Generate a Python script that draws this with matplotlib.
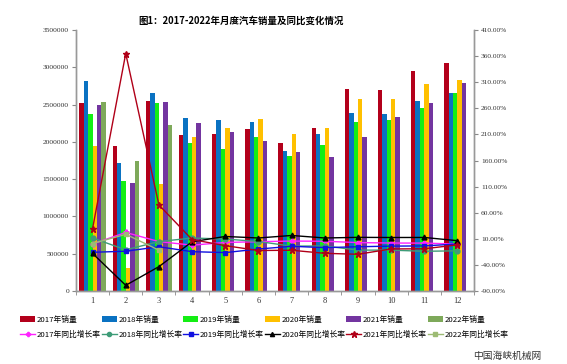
import matplotlib
matplotlib.use("Agg")
import matplotlib.pyplot as plt
import numpy as np
from matplotlib.patches import Patch
from matplotlib.lines import Line2D

plt.rcParams['font.family'] = ['Noto Sans CJK SC', 'DejaVu Sans']

months = ['1', '2', '3', '4', '5', '6', '7', '8', '9', '10', '11', '12']

sales_2017 = [2520000, 1940000, 2550000, 2090000, 2100000, 2170000, 1980000, 2180000, 2710000, 2700000, 2950000, 3060000]
sales_2018 = [2810000, 1720000, 2650000, 2320000, 2290000, 2270000, 1880000, 2100000, 2390000, 2380000, 2550000, 2660000]
sales_2019 = [2370000, 1480000, 2520000, 1980000, 1910000, 2060000, 1810000, 1960000, 2270000, 2290000, 2460000, 2660000]
sales_2020 = [1940000, 310000, 1430000, 2070000, 2190000, 2300000, 2110000, 2190000, 2570000, 2570000, 2770000, 2830000]
sales_2021 = [2500000, 1450000, 2530000, 2250000, 2130000, 2010000, 1860000, 1800000, 2070000, 2330000, 2520000, 2790000]
sales_2022 = [2530000, 1740000, 2230000]

yoy_2017 = [0.2, 22.2, 4.7, -2.2, 3.0, 4.5, 5.7, 5.3, 2.8, 1.9, 1.8, -0.1]
yoy_2018 = [11.6, -11.1, 4.7, 11.5, 9.6, 4.8, -4.0, -3.8, -11.6, -11.7, -13.9, -13.0]
yoy_2019 = [-15.8, -13.8, -5.2, -14.6, -16.4, -9.6, -4.3, -6.9, -5.2, -4.0, -3.6, 0.1]
yoy_2020 = [-18.0, -79.1, -43.3, 4.4, 14.5, 11.6, 16.4, 11.6, 12.8, 12.5, 12.6, 6.4]
yoy_2021 = [29.5, 364.9, 74.9, 8.6, -3.1, -12.4, -11.9, -17.8, -19.6, -9.4, -9.1, -1.6]
yoy_2022 = [0.9, 18.7, -11.7]

years = ['2017', '2018', '2019', '2020', '2021', '2022']
bar_colors = ['#B3001B', '#0A72C2', '#14EE14', '#FFC000', '#7335A0', '#7EA95A']
line_colors = ['#FF22FF', '#3E9C78', '#1010E0', '#000000', '#B00018', '#9DBB74']
line_markers = ['P', 'o', 's', '^', '*', 's']

sales = [sales_2017, sales_2018, sales_2019, sales_2020, sales_2021, sales_2022]
yoys = [yoy_2017, yoy_2018, yoy_2019, yoy_2020, yoy_2021, yoy_2022]

fig = plt.figure(figsize=(5.67, 3.64), dpi=100)
ax = fig.add_axes([0.134, 0.2005, 0.702, 0.7171])
ax2 = ax.twinx()

x = np.arange(len(months))
bw = 0.1325
for i, (s, c) in enumerate(zip(sales, bar_colors)):
    xs = x[:len(s)] + (i - 2.5) * bw
    ax.bar(xs, s, width=bw, color=c, linewidth=0, zorder=2)

for i, (y, c, m) in enumerate(zip(yoys, line_colors, line_markers)):
    ax2.plot(x[:len(y)], y, color=c, marker=m, markersize=3.5 if m != '*' else 5,
             linewidth=1.0, zorder=3)

ax.set_xlim(-0.5, 11.5)
ax.set_ylim(0, 3500000)
ax.set_yticks(np.arange(0, 3500001, 500000))
ax.set_yticklabels([str(v) for v in range(0, 3500001, 500000)])
ax2.set_ylim(-90, 410)
ax2.set_yticks(np.arange(-90, 411, 50))
ax2.set_yticklabels(['%.2f%%' % v for v in np.arange(-90, 411, 50)])

ax.set_xticks(x)
ax.set_xticklabels(months)
ax.set_xticks(np.arange(-0.5, 12, 1), minor=True)
ax.tick_params(axis='x', which='major', length=0, labelsize=6, pad=4)
ax.tick_params(axis='x', which='minor', length=3, color='#888888', direction='out')
ax.tick_params(axis='y', labelsize=5.4, length=3, color='#888888', pad=2)
ax2.tick_params(axis='y', labelsize=5.3, length=3, color='#888888', pad=2)
for lab in ax.get_yticklabels() + ax2.get_yticklabels() + ax.get_xticklabels():
    lab.set_family(['Liberation Serif', 'DejaVu Serif'])
    lab.set_color('#333333')

for a in (ax, ax2):
    a.spines['top'].set_visible(False)
    for sp in ('left', 'right', 'bottom'):
        a.spines[sp].set_color('#999999')
        a.spines[sp].set_linewidth(1.0)

fig.text(0.425, 0.942, '图1：2017-2022年月度汽车销量及同比变化情况', ha='center', va='center',
         fontsize=6.8, fontweight='bold')

handles = []
labels = []
for i in range(6):
    handles.append(Patch(facecolor=bar_colors[i], edgecolor='none'))
    labels.append(years[i] + '年销量')
    handles.append(Line2D([0], [0], color=line_colors[i], marker=line_markers[i],
                          markersize=3 if line_markers[i] != '*' else 4.5, linewidth=1.0))
    labels.append(years[i] + '年同比增长率')

leg = fig.legend(handles, labels, ncol=6, loc='upper left', bbox_to_anchor=(0.036, 0.132),
                 frameon=False, fontsize=5.6, handlelength=1.9, handleheight=0.8,
                 handletextpad=0.25, columnspacing=0.1, labelspacing=0.9,
                 borderaxespad=0, borderpad=0)

fig.text(0.834, 0.022, '中国海峡机械网', fontsize=7, color='#333333', ha='left', va='center')

fig.savefig('out.png', dpi=100)
